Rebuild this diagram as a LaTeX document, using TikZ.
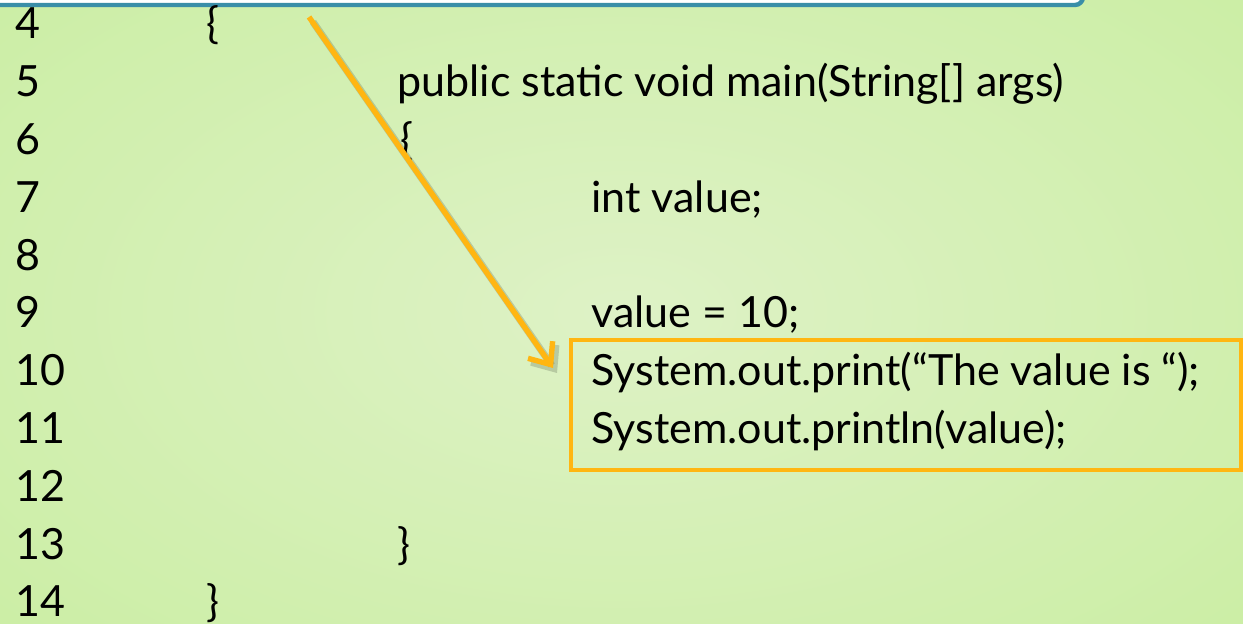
\documentclass[tikz,border=0pt]{standalone}
\usepackage{fontspec}
\setmainfont{Lato}
\usetikzlibrary{arrows.meta,calc}
\definecolor{bgin}{RGB}{222,242,198}
\definecolor{bgout}{RGB}{204,238,166}
\definecolor{boxblue}{RGB}{58,142,168}
\definecolor{hlorange}{RGB}{255,182,18}
\begin{document}
\begin{tikzpicture}[x=0.5pt,y=-0.5pt,
  code/.style={anchor=base west,inner sep=0pt,font=\fontsize{21.5}{26}\selectfont},
  hlbox/.style={draw=hlorange,line width=2pt,minimum width=335pt,minimum height=65pt,inner sep=0pt},
  pointer/.style={draw=hlorange,line width=2.7pt,-{Straight Barb[length=9pt,width=15pt,line width=2.7pt]}},
  pshadow/.style={draw=black,opacity=0.16,line width=3.6pt,-{Straight Barb[length=9pt,width=15pt,line width=3.6pt]}}]
\useasboundingbox (0,0) rectangle (1243,624);
\clip (0,0) rectangle (1243,624);
\shade[inner color=bgin,outer color=bgout] (-200,-150) rectangle (1443,774);
% top box (partially visible)
\draw[boxblue,line width=2.2pt,fill=white,rounded corners=4pt] (-40,-80) rectangle (1083,5);
% line numbers
\foreach \n [count=\i from 0] in {4,...,14} {
  \node[code] (n\n) at (15,39+\i*57.8) {\n};
}
\node[code] (b4) at (206,39) {\{};
\node[code] (c5) at (397,39+57.8) {public static void main(String[] args)};
\node[code] (b6) at (400,39+2*57.8) {\{};
\node[code] (c7) at (591,39+3*57.8) {int value;};
\node[code] (c9) at (591,39+5*57.8) {value = 10;};
\node[code] (c10) at (591,39+6*57.8) {System.out.print(“The value is “);};
\node[code] (c11) at (591,39+7*57.8) {System.out.println(value);};
\node[code] (b13) at (397,39+9*57.8) {\}};
\node[code] (b14) at (206,39+10*57.8) {\}};
% highlight box
\node[hlbox] (hl) at (906,405) {};
% arrow
\coordinate (src) at (309,17);
\coordinate (tip) at (553,368);
\draw[pshadow] ($(src)+(4,5)$) -- ($(tip)+(4,5)$);
\draw[pointer] (src) -- (tip);
\end{tikzpicture}
\end{document}
